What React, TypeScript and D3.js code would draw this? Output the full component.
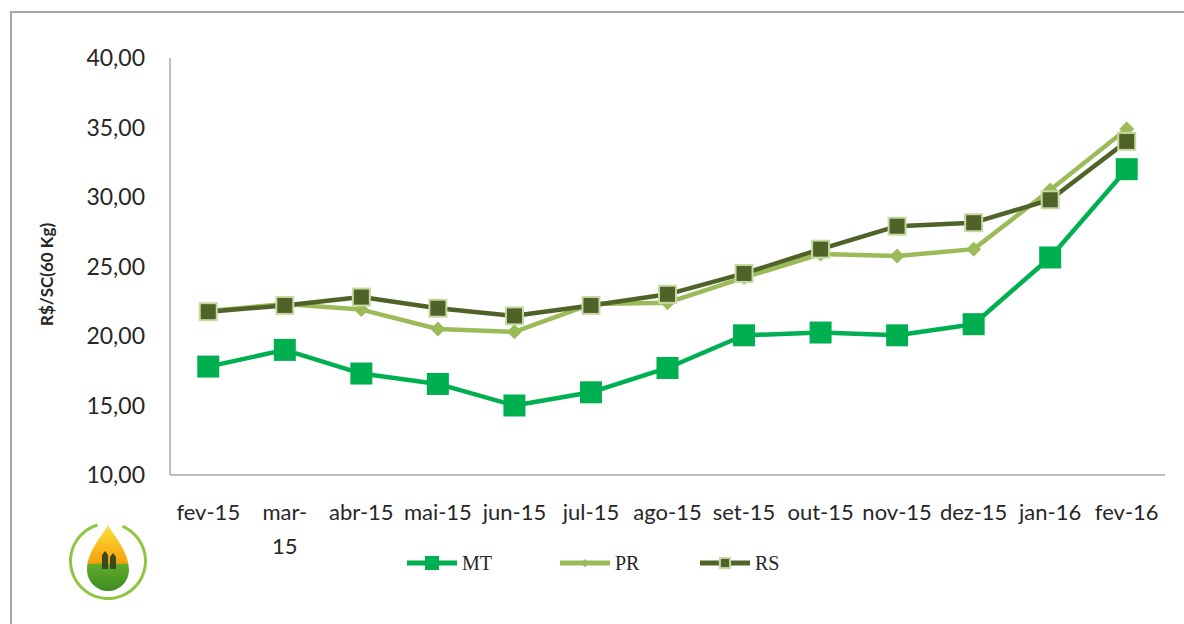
import React, { useEffect, useRef } from 'react';
import * as d3 from 'd3';

const months = ['fev-15', 'mar-15', 'abr-15', 'mai-15', 'jun-15', 'jul-15', 'ago-15', 'set-15', 'out-15', 'nov-15', 'dez-15', 'jan-16', 'fev-16'];
const mtValues = [17.8, 19.0, 17.3, 16.55, 15.0, 15.95, 17.7, 20.05, 20.25, 20.05, 20.85, 25.65, 32.0];
const prValues = [21.8, 22.3, 21.9, 20.5, 20.3, 22.3, 22.4, 24.2, 25.9, 25.75, 26.25, 30.5, 34.9];
const rsValues = [21.75, 22.2, 22.8, 22.0, 21.45, 22.2, 23.0, 24.5, 26.25, 27.9, 28.15, 29.8, 34.0];
const yTicks = [10, 15, 20, 25, 30, 35, 40];

const series = [
  { name: 'MT', values: mtValues, color: '#00b050', marker: 'square', size: 20, stroke: '#00b050' },
  { name: 'PR', values: prValues, color: '#9bbb59', marker: 'diamond', size: 15, stroke: '#9bbb59' },
  { name: 'RS', values: rsValues, color: '#4f6228', marker: 'square', size: 17, stroke: '#c6d9a3' },
];

const App = () => {
  const svgRef = useRef<SVGSVGElement>(null);

  useEffect(() => {
    const svg = d3.select(svgRef.current);
    svg.selectAll('*').remove();

    const width = 1184;
    const height = 624;
    const margin = { top: 58, right: 19, bottom: 149, left: 170 };
    const font = 'Lato, "Open Sans", sans-serif';

    // frame around the chart
    svg.append('path')
      .attr('d', `M11,${height} L11,12 L${width},12`)
      .attr('fill', 'none')
      .attr('stroke', '#a6a6a6')
      .attr('stroke-width', 2);

    const x = d3.scaleBand()
      .domain(months)
      .range([margin.left, width - margin.right]);

    const y = d3.scaleLinear()
      .domain([10, 40])
      .range([height - margin.bottom, margin.top]);

    const cx = (i: number) => (x(months[i]) as number) + x.bandwidth() / 2;

    // axes lines
    svg.append('line')
      .attr('x1', margin.left).attr('x2', margin.left)
      .attr('y1', y(40)).attr('y2', y(10))
      .attr('stroke', '#a6a6a6').attr('stroke-width', 1.5);
    svg.append('line')
      .attr('x1', margin.left).attr('x2', width - margin.right)
      .attr('y1', y(10)).attr('y2', y(10))
      .attr('stroke', '#a6a6a6').attr('stroke-width', 1.5);

    const fmt = (v: number) => d3.format('.2f')(v).replace('.', ',');

    svg.append('g')
      .selectAll('text')
      .data(yTicks)
      .join('text')
      .attr('x', 145)
      .attr('y', (d) => y(d))
      .attr('dy', '0.35em')
      .attr('text-anchor', 'end')
      .attr('font-family', font)
      .attr('font-size', 23)
      .attr('fill', '#262626')
      .text(fmt);

    // category labels, wrapping like the original
    const labelG = svg.append('g');
    months.forEach((m, i) => {
      const t = labelG.append('text')
        .attr('x', cx(i))
        .attr('y', 520)
        .attr('text-anchor', 'middle')
        .attr('font-family', font)
        .attr('font-size', 22)
        .attr('fill', '#262626');
      if (m === 'mar-15') {
        t.append('tspan').attr('x', cx(i)).text('mar-');
        t.append('tspan').attr('x', cx(i)).attr('dy', 34).text('15');
      } else {
        t.text(m);
      }
    });

    // y axis title
    svg.append('text')
      .attr('transform', `translate(53,${(y(10) + y(40)) / 2 + 8}) rotate(-90)`)
      .attr('text-anchor', 'middle')
      .attr('font-family', font)
      .attr('font-weight', 'bold')
      .attr('font-size', 17)
      .attr('fill', '#262626')
      .text('R$/SC(60 Kg)');

    const line = d3.line<number>()
      .x((_, i) => cx(i))
      .y((d) => y(d));

    const drawMarker = (g: any, s: any, px: number, py: number, scale = 1) => {
      const sz = s.size * scale;
      if (s.marker === 'square') {
        g.append('rect')
          .attr('x', px - sz / 2).attr('y', py - sz / 2)
          .attr('width', sz).attr('height', sz)
          .attr('fill', s.color)
          .attr('stroke', s.stroke)
          .attr('stroke-width', 2);
      } else {
        const h = sz / 2;
        g.append('path')
          .attr('d', `M${px},${py - h} L${px + h},${py} L${px},${py + h} L${px - h},${py} Z`)
          .attr('fill', s.color);
      }
    };

    series.forEach((s) => {
      const g = svg.append('g');
      g.append('path')
        .datum(s.values)
        .attr('d', line)
        .attr('fill', 'none')
        .attr('stroke', s.color)
        .attr('stroke-width', 4.5)
        .attr('stroke-linejoin', 'round');
      s.values.forEach((v, i) => drawMarker(g, s, cx(i), y(v)));
    });

    // legend
    const legendX = [407, 560, 700];
    const legendY = 563;
    series.forEach((s, i) => {
      const g = svg.append('g');
      const lx = legendX[i];
      g.append('line')
        .attr('x1', lx).attr('x2', lx + 50)
        .attr('y1', legendY).attr('y2', legendY)
        .attr('stroke', s.color)
        .attr('stroke-width', 5);
      drawMarker(g, s, lx + 25, legendY, s.marker === 'square' ? 0.6 : 0.55);
      g.append('text')
        .attr('x', lx + 55)
        .attr('y', legendY)
        .attr('dy', '0.35em')
        .attr('font-family', '"Liberation Serif", "DejaVu Serif", serif')
        .attr('font-size', 20)
        .attr('fill', '#262626')
        .text(s.name);
    });

    // logo
    const defs = svg.append('defs');
    const grad = defs.append('linearGradient').attr('id', 'dropGrad')
      .attr('x1', 0).attr('y1', 0).attr('x2', 0).attr('y2', 1);
    grad.append('stop').attr('offset', '0%').attr('stop-color', '#ffe03a');
    grad.append('stop').attr('offset', '58%').attr('stop-color', '#f4a10c');
    grad.append('stop').attr('offset', '59%').attr('stop-color', '#62ad2c');
    grad.append('stop').attr('offset', '100%').attr('stop-color', '#3d8a22');
    const logo = svg.append('g').attr('transform', 'translate(108,561)');
    logo.append('path')
      .attr('d', d3.arc()({ innerRadius: 36, outerRadius: 39, startAngle: 0.4, endAngle: 6.0 }) as string)
      .attr('fill', '#8dc63f');
    logo.append('path')
      .attr('d', 'M0,-36 C5,-26 21,-10 21,9 A21,21 0 0 1 -21,9 C-21,-10 -5,-26 0,-36 Z')
      .attr('fill', 'url(#dropGrad)');
    logo.append('path')
      .attr('d', 'M-6,8 L-6,-6 L-3,-10 L0,-6 L0,8 Z M2,8 L2,-4 L5,-8 L8,-4 L8,8 Z')
      .attr('fill', '#3b4a1c');
  }, []);

  return <svg ref={svgRef} width={1184} height={624} style={{ display: 'block', position: 'absolute', left: 0, top: 0 }} />;
};

export default App;
